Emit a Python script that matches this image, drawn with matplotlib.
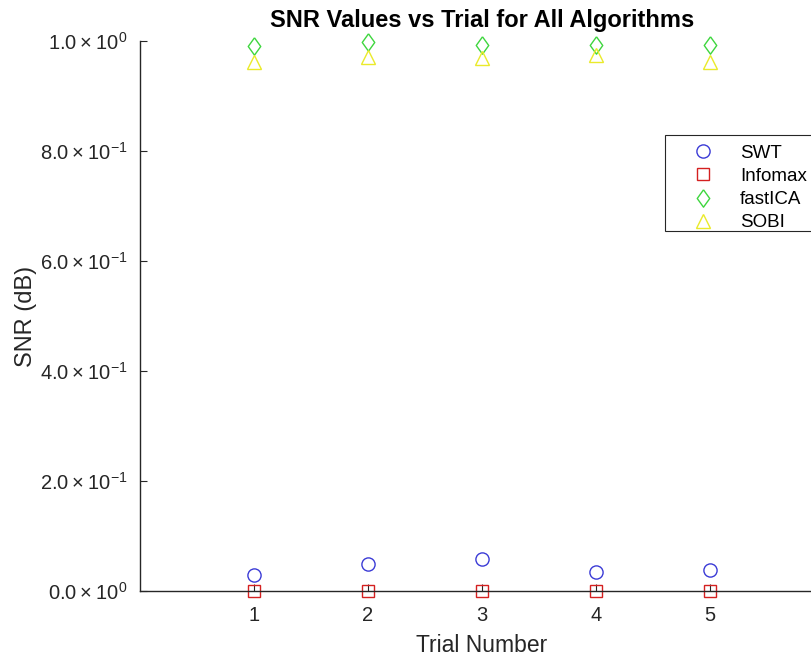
import matplotlib
matplotlib.use('Agg')
import matplotlib.pyplot as plt
from matplotlib.patches import Rectangle

plt.rcParams['font.family'] = ['Liberation Sans', 'DejaVu Sans']

# SNR per trial for each algorithm
trials = [1, 2, 3, 4, 5]
swt = [0.030, 0.050, 0.058, 0.034, 0.038]
infomax = [0.0002, 0.0002, 0.0002, 0.0002, 0.0002]
fastica = [0.991, 0.998, 0.993, 0.993, 0.993]
sobi = [0.962, 0.971, 0.969, 0.975, 0.962]

yticks = [0.0, 0.2, 0.4, 0.6, 0.8, 1.0]
ytick_labels = [r'$\mathregular{0.0\times10^{0}}$', r'$\mathregular{2.0\times10^{-1}}$',
                r'$\mathregular{4.0\times10^{-1}}$', r'$\mathregular{6.0\times10^{-1}}$',
                r'$\mathregular{8.0\times10^{-1}}$', r'$\mathregular{1.0\times10^{0}}$']

fig = plt.figure(figsize=(8.12, 6.55), dpi=100)
ax = fig.add_axes([140/812, 64/655, 684/812, 550/655])

# taller-than-wide diamond like MATLAB's
diamond = [(0, 1), (0.72, 0), (0, -1), (-0.72, 0), (0, 1)]

mk = dict(linestyle='none', markerfacecolor='none', markeredgewidth=1.0, clip_on=False)
ax.plot(trials, swt, marker='o', color='#3b3bd6', label='SWT', markersize=9.5, **mk)
ax.plot(trials, infomax, marker='s', color='#d42020', label='Infomax', markersize=8, **mk)
ax.plot(trials, fastica, marker=diamond, color='#3ed63e', label='fastICA', markersize=12.5, **mk)
ax.plot(trials, sobi, marker='^', color='#eaea2a', label='SOBI', markersize=10.5, **mk)

ax.set_xlim(0, 6)
ax.set_ylim(0, 1)
ax.set_xticks(trials)
ax.set_yticks(yticks)
ax.set_yticklabels(ytick_labels)
ax.tick_params(direction='in', length=5, colors='#262626', labelsize=14.5)
ax.tick_params(axis='x', pad=11)
ax.tick_params(axis='y', pad=9)
for s in ['top', 'right']:
    ax.spines[s].set_visible(False)
for s in ['left', 'bottom']:
    ax.spines[s].set_color('#262626')
    ax.spines[s].set_linewidth(1.0)

ax.set_title('SNR Values vs Trial for All Algorithms', fontsize=17, fontweight='bold', pad=10)
ax.set_xlabel('Trial Number', fontsize=16.5, color='#262626', labelpad=6)
ax.set_ylabel('SNR (dB)', fontsize=17, color='#262626', labelpad=2)

# legend entries without frame; the box is drawn separately in figure coords
leg = ax.legend(loc='upper left', bbox_to_anchor=(665/812, 1 - 141/655), bbox_transform=fig.transFigure,
                fontsize=13.5, frameon=False, borderaxespad=0,
                handletextpad=0.15, handlelength=3.65, borderpad=0.2, labelspacing=0.32)
leg.set_zorder(6)
ax.add_patch(Rectangle((665/812, 1 - 231/655), 160/812, 96/655, transform=fig.transFigure,
                       clip_on=False, facecolor='white', edgecolor='#262626', linewidth=0.8, zorder=5))

fig.savefig('out.png', dpi=100)
